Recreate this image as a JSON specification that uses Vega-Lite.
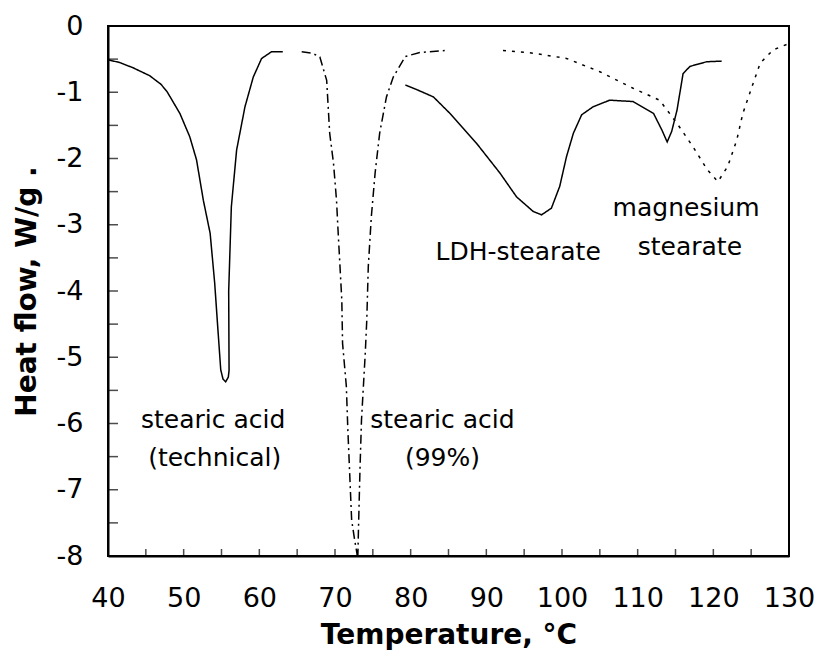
{
  "$schema": "https://vega.github.io/schema/vega-lite/v6.json",
  "width": 681,
  "height": 530,
  "autosize": "none",
  "padding": {"left": 108, "top": 26, "right": 29, "bottom": 94},
  "background": "white",
  "config": {
    "view": {"stroke": "black", "strokeWidth": 2},
    "axis": {
      "grid": false,
      "domainColor": "black",
      "domainWidth": 2,
      "ticks": true,
      "tickSize": 0,
      "labelFont": "DejaVu Sans",
      "labelFontSize": 27,
      "labelColor": "black",
      "titleFont": "DejaVu Sans",
      "titleFontSize": 28,
      "titleFontWeight": "bold",
      "titleColor": "black"
    }
  },
  "datasets": {
    "curves": [
      {"s": "tech", "o": 1, "t": 40, "h": -0.51},
      {"s": "tech", "o": 2, "t": 41.5, "h": -0.55},
      {"s": "tech", "o": 3, "t": 43.3, "h": -0.63},
      {"s": "tech", "o": 4, "t": 45.5, "h": -0.75},
      {"s": "tech", "o": 5, "t": 47, "h": -0.88},
      {"s": "tech", "o": 6, "t": 47.8, "h": -0.99},
      {"s": "tech", "o": 7, "t": 49.5, "h": -1.32},
      {"s": "tech", "o": 8, "t": 50.8, "h": -1.67},
      {"s": "tech", "o": 9, "t": 51.7, "h": -2.02},
      {"s": "tech", "o": 10, "t": 52.6, "h": -2.63},
      {"s": "tech", "o": 11, "t": 53.5, "h": -3.13},
      {"s": "tech", "o": 12, "t": 54.1, "h": -3.88},
      {"s": "tech", "o": 13, "t": 54.5, "h": -4.54},
      {"s": "tech", "o": 14, "t": 54.9, "h": -5.19},
      {"s": "tech", "o": 15, "t": 55.2, "h": -5.33},
      {"s": "tech", "o": 16, "t": 55.55, "h": -5.37},
      {"s": "tech", "o": 17, "t": 55.9, "h": -5.3},
      {"s": "tech", "o": 18, "t": 56.0, "h": -5.2},
      {"s": "tech", "o": 19, "t": 55.95, "h": -4.0},
      {"s": "tech", "o": 20, "t": 56.3, "h": -2.73},
      {"s": "tech", "o": 21, "t": 57.0, "h": -1.87},
      {"s": "tech", "o": 22, "t": 58.1, "h": -1.22},
      {"s": "tech", "o": 23, "t": 59.2, "h": -0.77},
      {"s": "tech", "o": 24, "t": 60.3, "h": -0.49},
      {"s": "tech", "o": 25, "t": 61.6, "h": -0.39},
      {"s": "tech", "o": 26, "t": 63.1, "h": -0.39},
      {"s": "pure", "o": 1, "t": 65.6, "h": -0.39},
      {"s": "pure", "o": 2, "t": 67, "h": -0.41},
      {"s": "pure", "o": 3, "t": 68.0, "h": -0.47},
      {"s": "pure", "o": 4, "t": 68.9, "h": -0.82},
      {"s": "pure", "o": 5, "t": 69.3, "h": -1.62},
      {"s": "pure", "o": 6, "t": 69.8, "h": -2.07},
      {"s": "pure", "o": 7, "t": 70.2, "h": -2.63},
      {"s": "pure", "o": 8, "t": 70.4, "h": -3.08},
      {"s": "pure", "o": 9, "t": 70.9, "h": -4.14},
      {"s": "pure", "o": 10, "t": 71.0, "h": -4.79},
      {"s": "pure", "o": 11, "t": 71.5, "h": -5.44},
      {"s": "pure", "o": 12, "t": 71.7, "h": -6.1},
      {"s": "pure", "o": 13, "t": 72.2, "h": -7.46},
      {"s": "pure", "o": 14, "t": 72.6, "h": -7.76},
      {"s": "pure", "o": 15, "t": 72.9, "h": -7.96},
      {"s": "pure", "o": 16, "t": 73.0, "h": -8.1},
      {"s": "pure", "o": 17, "t": 73.1, "h": -7.6},
      {"s": "pure", "o": 18, "t": 73.3, "h": -6.7},
      {"s": "pure", "o": 19, "t": 73.5, "h": -5.95},
      {"s": "pure", "o": 20, "t": 74.0, "h": -4.94},
      {"s": "pure", "o": 21, "t": 74.2, "h": -4.44},
      {"s": "pure", "o": 22, "t": 74.4, "h": -3.63},
      {"s": "pure", "o": 23, "t": 74.8, "h": -2.88},
      {"s": "pure", "o": 24, "t": 75.3, "h": -2.22},
      {"s": "pure", "o": 25, "t": 75.9, "h": -1.62},
      {"s": "pure", "o": 26, "t": 76.8, "h": -1.07},
      {"s": "pure", "o": 27, "t": 77.7, "h": -0.77},
      {"s": "pure", "o": 28, "t": 79.3, "h": -0.46},
      {"s": "pure", "o": 29, "t": 81.2, "h": -0.40},
      {"s": "pure", "o": 30, "t": 84.5, "h": -0.37},
      {"s": "ldh", "o": 1, "t": 79.3, "h": -0.89},
      {"s": "ldh", "o": 2, "t": 81, "h": -0.97},
      {"s": "ldh", "o": 3, "t": 83.0, "h": -1.07},
      {"s": "ldh", "o": 4, "t": 85.2, "h": -1.32},
      {"s": "ldh", "o": 5, "t": 88.7, "h": -1.77},
      {"s": "ldh", "o": 6, "t": 91.8, "h": -2.22},
      {"s": "ldh", "o": 7, "t": 94.0, "h": -2.58},
      {"s": "ldh", "o": 8, "t": 96.2, "h": -2.8},
      {"s": "ldh", "o": 9, "t": 97.3, "h": -2.85},
      {"s": "ldh", "o": 10, "t": 98.6, "h": -2.75},
      {"s": "ldh", "o": 11, "t": 99.7, "h": -2.42},
      {"s": "ldh", "o": 12, "t": 100.6, "h": -1.97},
      {"s": "ldh", "o": 13, "t": 101.5, "h": -1.62},
      {"s": "ldh", "o": 14, "t": 102.6, "h": -1.34},
      {"s": "ldh", "o": 15, "t": 104.1, "h": -1.22},
      {"s": "ldh", "o": 16, "t": 106.3, "h": -1.12},
      {"s": "ldh", "o": 17, "t": 109.4, "h": -1.14},
      {"s": "ldh", "o": 18, "t": 112.1, "h": -1.32},
      {"s": "ldh", "o": 19, "t": 113.2, "h": -1.57},
      {"s": "ldh", "o": 20, "t": 113.9, "h": -1.75},
      {"s": "ldh", "o": 21, "t": 114.5, "h": -1.59},
      {"s": "ldh", "o": 22, "t": 115.2, "h": -1.27},
      {"s": "ldh", "o": 23, "t": 116.0, "h": -0.72},
      {"s": "ldh", "o": 24, "t": 116.9, "h": -0.61},
      {"s": "ldh", "o": 25, "t": 119.1, "h": -0.54},
      {"s": "ldh", "o": 26, "t": 121.1, "h": -0.53},
      {"s": "mg", "o": 1, "t": 92.2, "h": -0.37},
      {"s": "mg", "o": 2, "t": 96.2, "h": -0.41},
      {"s": "mg", "o": 3, "t": 100.6, "h": -0.49},
      {"s": "mg", "o": 4, "t": 105.0, "h": -0.69},
      {"s": "mg", "o": 5, "t": 109.4, "h": -0.94},
      {"s": "mg", "o": 6, "t": 112.9, "h": -1.12},
      {"s": "mg", "o": 7, "t": 115.2, "h": -1.47},
      {"s": "mg", "o": 8, "t": 117.3, "h": -1.82},
      {"s": "mg", "o": 9, "t": 119.2, "h": -2.17},
      {"s": "mg", "o": 10, "t": 120.6, "h": -2.35},
      {"s": "mg", "o": 11, "t": 121.9, "h": -2.12},
      {"s": "mg", "o": 12, "t": 123.1, "h": -1.72},
      {"s": "mg", "o": 13, "t": 123.9, "h": -1.32},
      {"s": "mg", "o": 14, "t": 125.1, "h": -0.92},
      {"s": "mg", "o": 15, "t": 126.2, "h": -0.56},
      {"s": "mg", "o": 16, "t": 127.9, "h": -0.36},
      {"s": "mg", "o": 17, "t": 130.1, "h": -0.26}
    ],
    "labels": [
      {"t": 53.9, "h": -5.95, "txt": "stearic acid"},
      {"t": 54.1, "h": -6.52, "txt": "(technical)"},
      {"t": 84.2, "h": -5.95, "txt": "stearic acid"},
      {"t": 84.2, "h": -6.52, "txt": "(99%)"},
      {"t": 94.2, "h": -3.41, "txt": "LDH-stearate"},
      {"t": 116.4, "h": -2.75, "txt": "magnesium"},
      {"t": 116.9, "h": -3.33, "txt": "stearate"}
    ],
    "xticks": [
      {"t": 45, "h": -8}, {"t": 50, "h": -8}, {"t": 55, "h": -8}, {"t": 60, "h": -8},
      {"t": 65, "h": -8}, {"t": 70, "h": -8}, {"t": 75, "h": -8}, {"t": 80, "h": -8},
      {"t": 85, "h": -8}, {"t": 90, "h": -8}, {"t": 95, "h": -8}, {"t": 100, "h": -8},
      {"t": 105, "h": -8}, {"t": 110, "h": -8}, {"t": 115, "h": -8}, {"t": 120, "h": -8},
      {"t": 125, "h": -8}
    ],
    "yticks": [
      {"t": 40, "h": -7.5}, {"t": 40, "h": -7}, {"t": 40, "h": -6.5}, {"t": 40, "h": -6},
      {"t": 40, "h": -5.5}, {"t": 40, "h": -5}, {"t": 40, "h": -4.5}, {"t": 40, "h": -4},
      {"t": 40, "h": -3.5}, {"t": 40, "h": -3}, {"t": 40, "h": -2.5}, {"t": 40, "h": -2},
      {"t": 40, "h": -1.5}, {"t": 40, "h": -1}, {"t": 40, "h": -0.5}
    ]
  },
  "layer": [
    {
      "data": {"name": "curves"},
      "mark": {"type": "line", "stroke": "black", "strokeWidth": 1.5, "clip": true},
      "encoding": {
        "x": {
          "field": "t", "type": "quantitative",
          "scale": {"domain": [40, 130], "nice": false},
          "axis": {
            "title": "Temperature, °C",
            "values": [40, 50, 60, 70, 80, 90, 100, 110, 120, 130],
            "labelPadding": 29,
            "labelFlush": false,
            "labelOverlap": false,
            "titleY": 87,
            "titleBaseline": "alphabetic"
          }
        },
        "y": {
          "field": "h", "type": "quantitative",
          "scale": {"domain": [-8, 0], "nice": false},
          "axis": {
            "title": "Heat flow, W/g .",
            "values": [-8, -7, -6, -5, -4, -3, -2, -1, 0],
            "labelExpr": "'' + datum.value",
            "labelPadding": 25,
            "labelFlush": false,
            "labelOverlap": false,
            "titleX": -73,
            "titleY": 265,
            "titleAlign": "center",
            "titleBaseline": "alphabetic"
          }
        },
        "order": {"field": "o", "type": "quantitative"},
        "strokeDash": {
          "field": "s", "type": "nominal",
          "scale": {"domain": ["tech", "pure", "ldh", "mg"], "range": [[1, 0], [9, 4, 2, 4], [1, 0], [3, 6]]},
          "legend": null
        }
      }
    },
    {
      "data": {"name": "xticks"},
      "mark": {"type": "tick", "orient": "vertical", "size": 14, "thickness": 1.5, "color": "black", "clip": true},
      "encoding": {
        "x": {"field": "t", "type": "quantitative"},
        "y": {"field": "h", "type": "quantitative"}
      }
    },
    {
      "data": {"name": "yticks"},
      "mark": {"type": "tick", "orient": "horizontal", "size": 20, "thickness": 1.5, "color": "black", "clip": true},
      "encoding": {
        "x": {"field": "t", "type": "quantitative"},
        "y": {"field": "h", "type": "quantitative"}
      }
    },
    {
      "data": {"name": "labels"},
      "mark": {"type": "text", "font": "DejaVu Sans", "fontSize": 25, "color": "black", "align": "center", "baseline": "middle"},
      "encoding": {
        "x": {"field": "t", "type": "quantitative"},
        "y": {"field": "h", "type": "quantitative"},
        "text": {"field": "txt"}
      }
    }
  ]
}
